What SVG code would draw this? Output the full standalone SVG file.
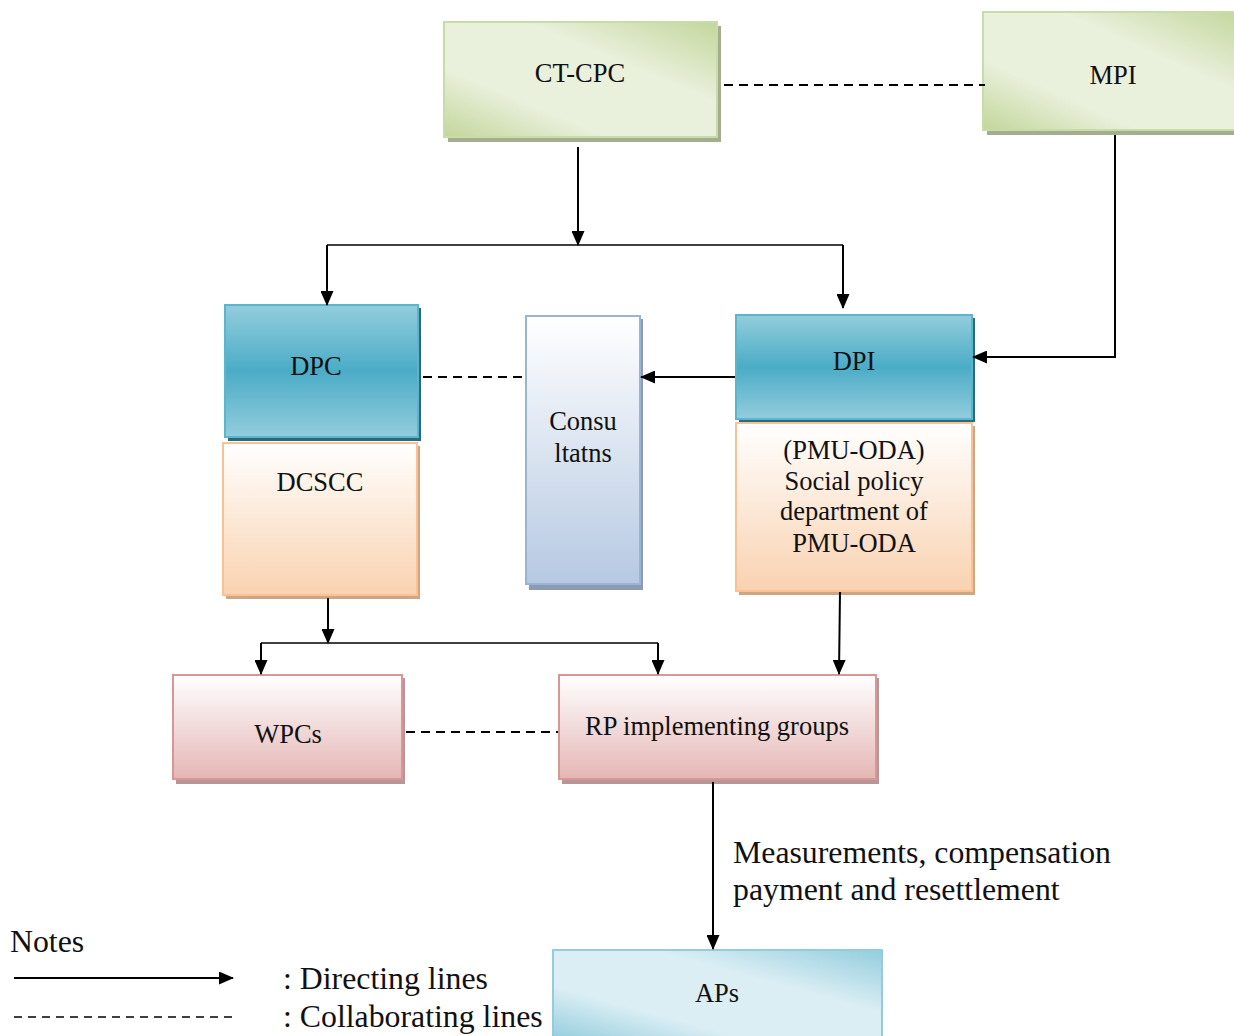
<svg xmlns="http://www.w3.org/2000/svg" width="1234" height="1036" viewBox="0 0 1234 1036">
<defs>
<linearGradient id="gGreen" x1="0" y1="1" x2="1" y2="0">
<stop offset="0" stop-color="#c3d69b"/><stop offset="0.3" stop-color="#e9f0dc"/><stop offset="0.65" stop-color="#e9f0dc"/><stop offset="1" stop-color="#c3d69b"/>
</linearGradient>
<linearGradient id="gBlue" x1="0" y1="0" x2="0" y2="1">
<stop offset="0" stop-color="#93cddd"/><stop offset="0.5" stop-color="#4bacc6"/><stop offset="1" stop-color="#93cddd"/>
</linearGradient>
<linearGradient id="gPeach" x1="0" y1="0" x2="0" y2="1">
<stop offset="0" stop-color="#ffffff"/><stop offset="1" stop-color="#f9d2b0"/>
</linearGradient>
<linearGradient id="gSky" x1="0" y1="0" x2="0" y2="1">
<stop offset="0" stop-color="#ffffff"/><stop offset="1" stop-color="#b6c9e2"/>
</linearGradient>
<linearGradient id="gPink" x1="0" y1="0" x2="0" y2="1">
<stop offset="0" stop-color="#ffffff"/><stop offset="1" stop-color="#e4b6b5"/>
</linearGradient>
<linearGradient id="gAqua" x1="0" y1="1" x2="1" y2="0">
<stop offset="0" stop-color="#93cddd"/><stop offset="0.3" stop-color="#dbeef4"/><stop offset="0.65" stop-color="#dbeef4"/><stop offset="1" stop-color="#93cddd"/>
</linearGradient>
<marker id="arr" markerWidth="15" markerHeight="13" refX="14" refY="6.5" orient="auto" markerUnits="userSpaceOnUse">
<path d="M0,0 L15,6.5 L0,13 Z" fill="#000"/>
</marker>
</defs>
<style>
text{font-family:"Liberation Serif","Times New Roman",serif;fill:#111;}
.n{font-size:26.5px;text-anchor:middle;}
.big{font-size:31.8px;}
.dir{stroke:#000;stroke-width:2;fill:none;marker-end:url(#arr);}
.plain{stroke:#000;stroke-width:1.3;fill:none;}
.col{stroke:#000;stroke-width:2;fill:none;stroke-dasharray:9,6;}
</style>

<g id="node-ctcpc">
<rect x="448" y="26" width="273" height="116" fill="#a3ad90"/>
<rect x="444" y="22" width="273" height="115" fill="url(#gGreen)" stroke="#c9dba6" stroke-width="2"/>
<text class="n" x="580" y="82">CT-CPC</text>
</g>
<g id="node-mpi">
<rect x="987" y="16" width="260" height="119" fill="#a3ad90"/>
<rect x="983" y="12" width="260" height="118" fill="url(#gGreen)" stroke="#c9dba6" stroke-width="2"/>
<text class="n" x="1113" y="84">MPI</text>
</g>
<g id="node-dpc">
<rect x="228" y="308" width="193" height="133" fill="#2a6a7c"/>
<rect x="225" y="305" width="193" height="132" fill="url(#gBlue)" stroke="#5ab6cc" stroke-width="2"/>
<text class="n" x="316" y="375">DPC</text>
</g>
<g id="node-dcscc">
<rect x="226" y="446" width="194" height="153" fill="#cfa683"/>
<rect x="223" y="443" width="194" height="152" fill="url(#gPeach)" stroke="#f9c194" stroke-width="2"/>
<text class="n" x="320" y="491">DCSCC</text>
</g>
<g id="node-consultants">
<rect x="529" y="319" width="114" height="271" fill="#8c9bb0"/>
<rect x="526" y="316" width="114" height="268" fill="url(#gSky)" stroke="#98b5d8" stroke-width="2"/>
<text class="n" x="583" y="430">Consu</text>
<text class="n" x="583" y="462">ltatns</text>
</g>
<g id="node-dpi">
<rect x="739" y="318" width="236" height="104" fill="#2a6a7c"/>
<rect x="736" y="315" width="236" height="104" fill="url(#gBlue)" stroke="#5ab6cc" stroke-width="2"/>
<text class="n" x="854" y="370">DPI</text>
</g>
<g id="node-pmu">
<rect x="739" y="426" width="236" height="169" fill="#cfa683"/>
<rect x="736" y="423" width="236" height="168" fill="url(#gPeach)" stroke="#f9c194" stroke-width="2"/>
<text class="n" x="854" y="459">(PMU-ODA)</text>
<text class="n" x="854" y="490">Social policy</text>
<text class="n" x="854" y="520">department of</text>
<text class="n" x="854" y="552">PMU-ODA</text>
</g>
<g id="node-wpcs">
<rect x="176" y="678" width="229" height="106" fill="#b89696"/>
<rect x="173" y="675" width="229" height="104" fill="url(#gPink)" stroke="#d99694" stroke-width="2"/>
<text class="n" x="288" y="743">WPCs</text>
</g>
<g id="node-rp">
<rect x="562" y="678" width="317" height="106" fill="#b89696"/>
<rect x="559" y="675" width="317" height="104" fill="url(#gPink)" stroke="#d99694" stroke-width="2"/>
<text class="n" x="717" y="735">RP implementing groups</text>
</g>
<g id="node-aps">
<rect x="553" y="950" width="329" height="90" fill="url(#gAqua)" stroke="#93cddd" stroke-width="2"/>
<text class="n" x="717" y="1002">APs</text>
</g>

<g id="connectors">
<line class="col" x1="724" y1="85" x2="985" y2="85"/>
<line class="dir" x1="578" y1="147" x2="578" y2="245"/>
<line class="plain" x1="327" y1="245" x2="843" y2="245"/>
<line class="dir" x1="327" y1="245" x2="327" y2="305"/>
<line class="dir" x1="843" y1="245" x2="843" y2="308"/>
<polyline class="dir" points="1115,135 1115,357 973,357"/>
<line class="col" x1="423" y1="377" x2="526" y2="377"/>
<line class="dir" x1="735" y1="377" x2="641" y2="377"/>
<line class="dir" x1="328" y1="598" x2="328" y2="643"/>
<line class="plain" x1="261" y1="643" x2="658" y2="643"/>
<line class="dir" x1="261" y1="643" x2="261" y2="674"/>
<line class="dir" x1="658" y1="643" x2="658" y2="674"/>
<line class="dir" x1="840" y1="592" x2="839" y2="674"/>
<line class="col" x1="406" y1="732" x2="558" y2="732"/>
<line class="dir" x1="713" y1="782" x2="713" y2="949"/>
</g>

<g id="labels">
<text class="big" x="733" y="863">Measurements, compensation</text>
<text class="big" x="733" y="900">payment and resettlement</text>
</g>

<g id="legend">
<text class="big" x="10" y="952">Notes</text>
<line class="dir" x1="14" y1="978" x2="233" y2="978"/>
<line x1="14" y1="1017" x2="233" y2="1017" stroke="#000" stroke-width="1.3" stroke-dasharray="8,6"/>
<text class="big" x="283" y="989">: Directing lines</text>
<text class="big" x="283" y="1027">: Collaborating lines</text>
</g>
</svg>
